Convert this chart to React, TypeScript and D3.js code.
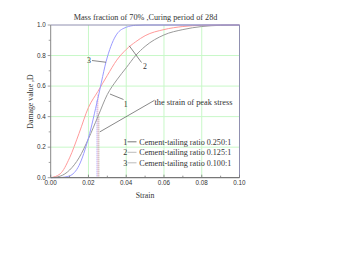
import React from "react";
import * as d3 from "d3";

const strain = [0, 0.005, 0.01, 0.015, 0.02, 0.025, 0.03, 0.035, 0.04, 0.045, 0.05, 0.06, 0.07, 0.08, 0.09, 0.1];
const damage1 = [0, 0.01, 0.05, 0.13, 0.255, 0.4, 0.545, 0.64, 0.72, 0.8, 0.86, 0.935, 0.97, 0.99, 0.998, 1];
const damage2 = [0, 0.025, 0.13, 0.29, 0.46, 0.565, 0.67, 0.77, 0.84, 0.89, 0.93, 0.97, 0.99, 0.998, 1, 1];
const damage3 = [0, 0.001, 0.012, 0.08, 0.26, 0.52, 0.79, 0.94, 0.985, 0.998, 1, 1, 1, 1, 1, 1];

const seriesNames = ["Cement-tailing ratio 0.250:1", "Cement-tailing ratio 0.125:1", "Cement-tailing ratio 0.100:1"];
const seriesColors = ["#9a9a9a", "#ff9a9a", "#9a9aff"];
const legendLineColors = ["#555", "#aaa", "#aaa"];
const peakStrain = [0.0255, 0.025, 0.0245];
const peakDamage = [0.4, 0.55, 0.51];

const xTicks = [0, 0.02, 0.04, 0.06, 0.08, 0.1];
const yTicks = [0, 0.2, 0.4, 0.6, 0.8, 1.0];
const xMinor = [0.01, 0.03, 0.05, 0.07, 0.09];
const yMinor = [0.1, 0.3, 0.5, 0.7, 0.9];

const title = "Mass fraction of 70%  ,Curing period of 28d";
const xLabel = "Strain";
const yLabel = "Damage value ,D";
const peakLabel = "the strain of peak stress";

export default function App() {
  const W = 348, H = 265;
  const x = d3.scaleLinear().domain([0, 0.1]).range([50.7, 239.5]);
  const y = d3.scaleLinear().domain([0, 1]).range([177.7, 25]);
  const series = [damage1, damage2, damage3];
  const line = (vals: number[]) =>
    d3.line<number>().x((_, i) => x(strain[i])).y((d) => y(d)).curve(d3.curveMonotoneX)(vals) || "";
  const serif = "'Liberation Serif', 'Times New Roman', serif";
  const sans = "'Liberation Sans', Arial, sans-serif";
  const grid = "#c8f8c8";
  const txt = "#333";
  return (
    <svg width={W} height={H} style={{ position: "absolute", left: 0, top: 0, background: "#fff" }}>
      <rect x={0} y={0} width={W} height={H} fill="#fff" />
      {xTicks.slice(1, -1).map((t) => (
        <line key={"gx" + t} x1={x(t)} x2={x(t)} y1={y(0)} y2={y(1)} stroke={grid} strokeWidth={1} />
      ))}
      {yTicks.slice(1, -1).map((t) => (
        <line key={"gy" + t} x1={x(0)} x2={x(0.1)} y1={y(t)} y2={y(t)} stroke={grid} strokeWidth={1} />
      ))}
      {peakStrain.map((p, i) => (
        <line key={"pk" + i} x1={x(p)} x2={x(p)} y1={y(0)} y2={y(peakDamage[i])} stroke={seriesColors[i]} strokeWidth={1} strokeDasharray="1,1" />
      ))}
      {series.map((s, i) => (
        <path key={"s" + i} d={line(s)} fill="none" stroke={seriesColors[i]} strokeWidth={1} />
      ))}
      <line x1={x(0)} x2={x(0.1)} y1={y(1)} y2={y(1)} stroke="#9090b0" strokeWidth={1} />
      <line x1={x(0.1)} x2={x(0.1)} y1={y(0)} y2={y(1)} stroke="#9090b0" strokeWidth={1} />
      <line x1={x(0)} x2={x(0)} y1={y(0)} y2={y(1)} stroke="#888" strokeWidth={1} />
      <line x1={x(0)} x2={x(0.1)} y1={y(0)} y2={y(0)} stroke="#777" strokeWidth={1.2} />
      {xTicks.map((t) => (
        <line key={"tx" + t} x1={x(t)} x2={x(t)} y1={y(0)} y2={y(0) - 3} stroke="#777" strokeWidth={0.8} />
      ))}
      {xMinor.map((t) => (
        <line key={"mx" + t} x1={x(t)} x2={x(t)} y1={y(0)} y2={y(0) - 2} stroke="#777" strokeWidth={0.8} />
      ))}
      {yTicks.map((t) => (
        <line key={"ty" + t} x1={x(0)} x2={x(0) - 3} y1={y(t)} y2={y(t)} stroke="#888" strokeWidth={0.8} />
      ))}
      {yMinor.map((t) => (
        <line key={"my" + t} x1={x(0)} x2={x(0) - 2} y1={y(t)} y2={y(t)} stroke="#888" strokeWidth={0.8} />
      ))}
      {xTicks.map((t) => (
        <text key={"lx" + t} x={x(t)} y={y(0) + 7.5} fontFamily={sans} fontSize={6.3} fill={txt} textAnchor="middle">
          {t.toFixed(2)}
        </text>
      ))}
      {yTicks.map((t) => (
        <text key={"ly" + t} x={x(0) - 5} y={y(t) + 2.2} fontFamily={sans} fontSize={6.3} fill={txt} textAnchor="end">
          {t.toFixed(1)}
        </text>
      ))}
      <text x={145.5} y={20} fontFamily={serif} fontSize={8.2} fill={txt} textAnchor="middle">{title}</text>
      <text x={145} y={198} fontFamily={serif} fontSize={7.8} fill={txt} textAnchor="middle">{xLabel}</text>
      <text transform={`translate(32.5,${101.5}) rotate(-90)`} fontFamily={serif} fontSize={7.8} fill={txt} textAnchor="middle">{yLabel}</text>
      <text x={89} y={63} fontFamily={serif} fontSize={7.8} fill={txt} textAnchor="middle">3</text>
      <line x1={92} y1={60.5} x2={x(0.0293)} y2={y(0.756)} stroke="#555" strokeWidth={0.7} />
      <text x={145} y={69} fontFamily={serif} fontSize={7.8} fill={txt} textAnchor="middle">2</text>
      <line x1={x(0.0416)} y1={y(0.864)} x2={141.5} y2={62.5} stroke="#555" strokeWidth={0.7} />
      <text x={125.7} y={106.5} fontFamily={serif} fontSize={7.8} fill={txt} textAnchor="middle">1</text>
      <line x1={x(0.0314)} y1={y(0.548)} x2={123.5} y2={99.5} stroke="#555" strokeWidth={0.7} />
      <text x={154.5} y={105} fontFamily={serif} fontSize={8.3} fill={txt}>{peakLabel}</text>
      <line x1={154.5} y1={100.3} x2={x(0.026)} y2={y(0.3)} stroke="#555" strokeWidth={0.7} />
      {seriesNames.map((n, i) => (
        <g key={"lg" + i}>
          <text x={125.2} y={144.5 + i * 10.5} fontFamily={serif} fontSize={8} fill={txt} textAnchor="middle">{i + 1}</text>
          <line x1={127.5} x2={136.5} y1={141.8 + i * 10.5} y2={141.8 + i * 10.5} stroke={legendLineColors[i]} strokeWidth={0.8} />
          <text x={139.3} y={144.5 + i * 10.5} fontFamily={serif} fontSize={8.1} fill={txt}>{n}</text>
        </g>
      ))}
    </svg>
  );
}
